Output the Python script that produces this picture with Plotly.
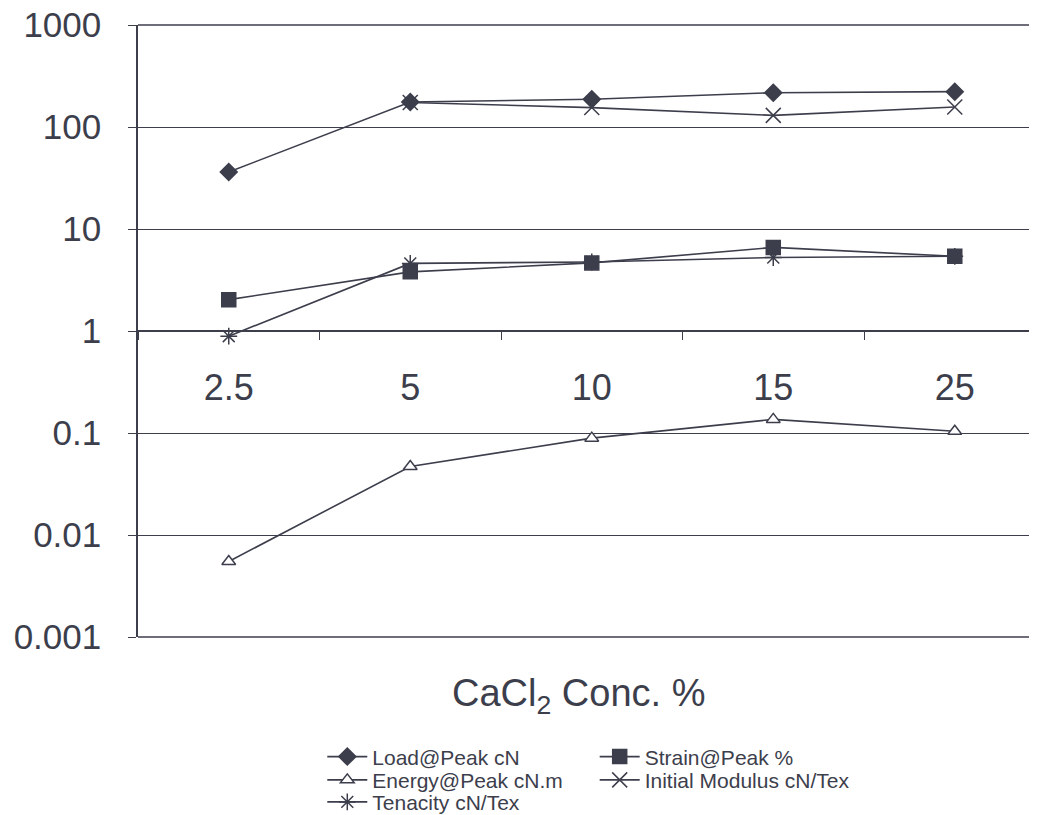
import plotly.graph_objects as go

categories = ["2.5", "5", "10", "15", "25"]
load_peak = [36.2, 176, 187, 217, 222]
strain_peak = [2.03, 3.8, 4.65, 6.6, 5.4]
energy_peak = [0.0055, 0.047, 0.089, 0.136, 0.104]
initial_modulus = [None, 174, 155, 130, 157]
tenacity = [0.89, 4.6, 4.75, 5.25, 5.4]
y_tick_vals = [0.001, 0.01, 0.1, 1, 10, 100, 1000]
y_tick_text = ["0.001", "0.01", "0.1", "1", "10", "100", "1000"]

INK = "#3c3e4c"
FONT = "Liberation Sans, Arial, sans-serif"

fig = go.Figure()

def add(name, vals, symbol, size, legend, fill):
    fig.add_trace(go.Scatter(
        x=categories, y=vals, name=name, mode="lines+markers",
        line=dict(color=INK, width=1.6),
        marker=dict(symbol=symbol, size=size, color=fill,
                    line=dict(color=INK, width=1.5)),
        legend=legend, connectgaps=False,
    ))

add("Load@Peak cN", load_peak, "diamond", 13, "legend", INK)
add("Strain@Peak %", strain_peak, "square", 14, "legend2", INK)
add("Energy@Peak cN.m", energy_peak, "triangle-up", 12, "legend3", "white")
add("Initial Modulus cN/Tex", initial_modulus, "x-thin-open", 15, "legend4", INK)
add("Tenacity cN/Tex", tenacity, "asterisk-open", 14, "legend5", INK)

def leg(x, y):
    return dict(x=x, y=y, xanchor="left", yanchor="middle",
                font=dict(size=21, family=FONT, color=INK),
                tracegroupgap=0, itemwidth=40, bgcolor="rgba(0,0,0,0)")

row1, row2, row3 = -0.196, -0.234, -0.27
col1, col2 = 0.205, 0.508

# page body has an 8px margin: figure is sized so that it fills the 1037x815 window
fig.update_layout(
    width=1029, height=807,
    margin=dict(l=130, r=0, t=17, b=178, autoexpand=False),
    paper_bgcolor="white", plot_bgcolor="white",
    font=dict(family=FONT, color=INK),
    showlegend=True,
    legend=leg(col1, row1),
    legend2=leg(col2, row1),
    legend3=leg(col1, row2),
    legend4=leg(col2, row2),
    legend5=leg(col1, row3),
    xaxis=dict(type="category", range=[-0.5, 4.453], anchor="free", position=0.5,
               showline=True, linecolor=INK, linewidth=1.5,
               ticks="outside", ticklen=8, tickcolor=INK, tickson="boundaries",
               showgrid=False, zeroline=False, automargin=False,
               tickfont=dict(size=36, family=FONT, color=INK),
               ticklabelstandoff=25),
    yaxis=dict(type="log", range=[-3, 3], domain=[0, 1],
               tickvals=y_tick_vals, ticktext=y_tick_text,
               showline=True, linecolor=INK, linewidth=1.5,
               ticks="outside", ticklen=8, tickcolor=INK,
               showgrid=True, gridcolor=INK, gridwidth=1.3,
               tickfont=dict(size=35, family=FONT, color=INK),
               ticklabeloverflow="allow",
               ticklabelstandoff=20, zeroline=False, automargin=False),
    # frame lines at the top (1000) and bottom (0.001) of the plot area
    shapes=[
        dict(type="line", xref="paper", yref="paper", x0=0, x1=1, y0=1, y1=1,
             line=dict(color=INK, width=1.3), layer="below"),
        dict(type="line", xref="paper", yref="paper", x0=0, x1=1, y0=0, y1=0,
             line=dict(color=INK, width=1.3), layer="below"),
    ],
    annotations=[dict(text="CaCl<sub>2</sub> Conc. %", xref="paper", yref="paper",
                      x=0.49, y=-0.096, xanchor="center", yanchor="middle",
                      showarrow=False, font=dict(size=38, family=FONT, color=INK))],
)

fig.write_html("out.html")
